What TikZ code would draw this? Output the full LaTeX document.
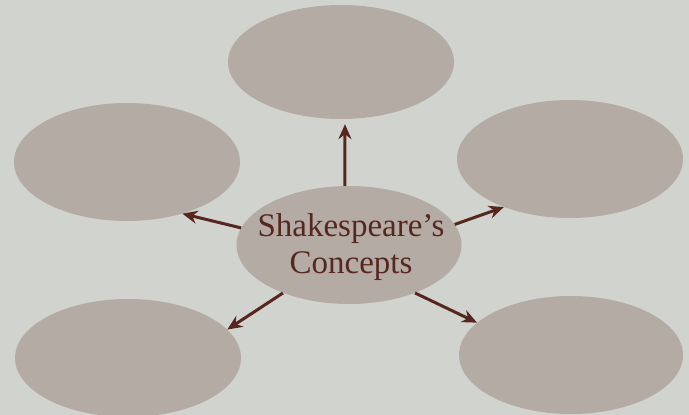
\documentclass[tikz,border=0pt]{standalone}
\usepackage{fontspec}
\setmainfont{Liberation Serif}
\usetikzlibrary{shapes.geometric,arrows.meta}
\definecolor{bgc}{HTML}{D1D3CF}
\definecolor{ellc}{HTML}{B4ABA4}
\definecolor{brn}{HTML}{57271F}
\tikzset{
  bubble/.style={ellipse, fill=ellc, draw=none, inner sep=0pt},
  arr/.style={draw=brn, line width=3pt, -{Stealth[length=15pt,width=13pt]}}
}
\begin{document}
\begin{tikzpicture}[x=1pt,y=-1pt]
\fill[bgc] (0,0) rectangle (689,415);
\useasboundingbox (0,0) rectangle (689,415);
\node[bubble, minimum width=226pt, minimum height=114pt] (top) at (341,62) {};
\node[bubble, minimum width=226pt, minimum height=118pt] (lt) at (127,162) {};
\node[bubble, minimum width=226pt, minimum height=118pt] (rt) at (570,159) {};
\node[bubble, minimum width=226pt, minimum height=118pt] (lb) at (128,358) {};
\node[bubble, minimum width=224pt, minimum height=118pt] (rb) at (571,355) {};
\node[bubble, minimum width=225pt, minimum height=118pt] (c) at (349,245) {};
\node[text=brn, align=center, inner sep=0pt,
      font=\fontsize{33}{37.5}\selectfont] (ct) at (351,247) {Shakespeare’s\\Concepts};
\draw[arr, shorten >=5pt] (c.94) -- (top.-86);
\draw[arr] (c.171) -- (lt.-43);
\draw[arr] (c.11.7) -- (rt.-144.4);
\draw[arr] (c.-144) -- (lb.16.7);
\draw[arr] (c.-36) -- (rb.161.7);
\end{tikzpicture}
\end{document}
